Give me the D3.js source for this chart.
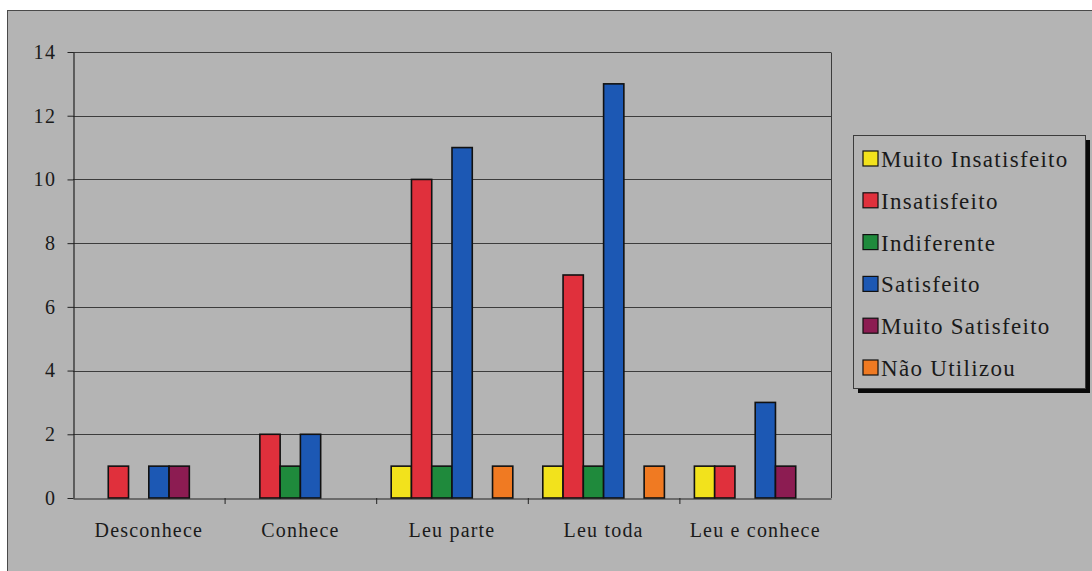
<!DOCTYPE html>
<html>
<head>
<meta charset="utf-8">
<script src="https://cdn.jsdelivr.net/npm/d3@7"></script>
<style>
  html, body { margin: 0; padding: 0; background: #ffffff; }
  svg { display: block; }
</style>
</head>
<body>
<svg id="chart" width="1092" height="571"></svg>
<script>
// Categories (x axis) and response series
const categories = ["Desconhece", "Conhece", "Leu parte", "Leu toda", "Leu e conhece"];
const seriesNames = ["Muito Insatisfeito", "Insatisfeito", "Indiferente", "Satisfeito", "Muito Satisfeito", "Não Utilizou"];
const seriesColors = ["#f2e21c", "#e0303c", "#1f8a3c", "#1c58b4", "#8c1c52", "#f07a22"];

// Counts per series, one value per category
const muitoInsatisfeito = [0, 0, 1, 1, 1];
const insatisfeito      = [1, 2, 10, 7, 1];
const indiferente       = [0, 1, 1, 1, 0];
const satisfeito        = [1, 2, 11, 13, 3];
const muitoSatisfeito   = [1, 0, 0, 0, 1];
const naoUtilizou       = [0, 0, 1, 1, 0];

const yTicks = [0, 2, 4, 6, 8, 10, 12, 14];

const seriesValues = [muitoInsatisfeito, insatisfeito, indiferente, satisfeito, muitoSatisfeito, naoUtilizou];

const svg = d3.select("#chart");
const W = 1092, H = 571;
const plot = { left: 73, top: 52, right: 831, bottom: 498 };
const serif = "'Liberation Serif'";
const ink = "#1a1a1a";

// Chart area background with outer border
svg.append("rect")
  .attr("x", 7.5).attr("y", 10.5)
  .attr("width", W + 5).attr("height", H)
  .attr("fill", "#b4b4b4")
  .attr("stroke", "#4a4a4a").attr("stroke-width", 1);

const x0 = d3.scaleBand()
  .domain(categories)
  .range([plot.left, plot.right])
  .paddingInner(0).paddingOuter(0);

const x1 = d3.scaleBand()
  .domain(d3.range(seriesNames.length))
  .range([0, x0.bandwidth()])
  .paddingInner(0)
  .paddingOuter(0.74);

const y = d3.scaleLinear().domain([0, 14]).range([plot.bottom, plot.top]);

// Horizontal gridlines
svg.append("g")
  .selectAll("line")
  .data(yTicks.filter(t => t > 0))
  .join("line")
  .attr("x1", plot.left).attr("x2", plot.right)
  .attr("y1", d => Math.round(y(d)) + 0.5).attr("y2", d => Math.round(y(d)) + 0.5)
  .attr("stroke", "#3c3c3c").attr("stroke-width", 1);

// Plot area right border
svg.append("line")
  .attr("x1", plot.right + 0.5).attr("x2", plot.right + 0.5)
  .attr("y1", Math.round(y(14)) + 0.5).attr("y2", plot.bottom)
  .attr("stroke", "#3c3c3c");

// Bars
const groups = svg.append("g")
  .selectAll("g")
  .data(categories)
  .join("g")
  .attr("transform", d => `translate(${x0(d)},0)`);

groups.selectAll("rect")
  .data((c, ci) => seriesValues.map((vals, si) => ({ si, v: vals[ci] })).filter(d => d.v > 0))
  .join("rect")
  .attr("x", d => x1(d.si))
  .attr("y", d => y(d.v))
  .attr("width", x1.bandwidth())
  .attr("height", d => y(0) - y(d.v))
  .attr("fill", d => seriesColors[d.si])
  .attr("stroke", "#111")
  .attr("stroke-width", 1.6);

// Y axis
const yAxis = d3.axisLeft(y).tickValues(yTicks).tickSize(6).tickPadding(11).tickSizeOuter(0);
const gy = svg.append("g").attr("transform", `translate(${plot.left + 0.5},0)`).call(yAxis);
gy.select(".domain").attr("stroke", "#222").attr("stroke-width", 1.2);
gy.selectAll(".tick line").attr("stroke", "#222");
gy.selectAll(".tick text")
  .style("font-family", serif).style("font-size", "20px").style("letter-spacing", "1.5px")
  .attr("fill", ink);

// X axis
const xAxis = d3.axisBottom(x0).tickSize(0).tickPadding(24).tickSizeOuter(0);
const gx = svg.append("g").attr("transform", `translate(0,${plot.bottom + 0.5})`).call(xAxis);
gx.select(".domain").attr("stroke", "#222").attr("stroke-width", 1.2);
gx.selectAll(".tick text")
  .style("font-family", serif).style("font-size", "20px").style("letter-spacing", "1.2px")
  .attr("fill", ink);
// Category separator ticks
svg.append("g")
  .selectAll("line")
  .data(categories.slice(1))
  .join("line")
  .attr("x1", d => x0(d) + 0.5).attr("x2", d => x0(d) + 0.5)
  .attr("y1", plot.bottom).attr("y2", plot.bottom + 6)
  .attr("stroke", "#222");

// Legend with drop shadow
const lg = { x: 853, y: 135, w: 232, h: 253 };
svg.append("rect")
  .attr("x", lg.x + 5).attr("y", lg.y + 5)
  .attr("width", lg.w).attr("height", lg.h)
  .attr("fill", "#0a0a0a");
svg.append("rect")
  .attr("x", lg.x + 0.5).attr("y", lg.y + 0.5)
  .attr("width", lg.w).attr("height", lg.h)
  .attr("fill", "#b4b4b4")
  .attr("stroke", "#3c3c3c").attr("stroke-width", 1);

const items = svg.append("g")
  .selectAll("g")
  .data(seriesNames)
  .join("g")
  .attr("transform", (d, i) => `translate(${lg.x + 10},${lg.y + 24 + i * 41.8})`);
items.append("rect")
  .attr("x", 0).attr("y", -8)
  .attr("width", 15).attr("height", 15)
  .attr("fill", (d, i) => seriesColors[i])
  .attr("stroke", "#111").attr("stroke-width", 1.2);
items.append("text")
  .attr("x", 18).attr("y", 0)
  .attr("dy", "0.35em")
  .style("font-family", serif).style("font-size", "23px").style("letter-spacing", "1.3px")
  .attr("fill", ink)
  .text(d => d);
</script>
</body>
</html>
